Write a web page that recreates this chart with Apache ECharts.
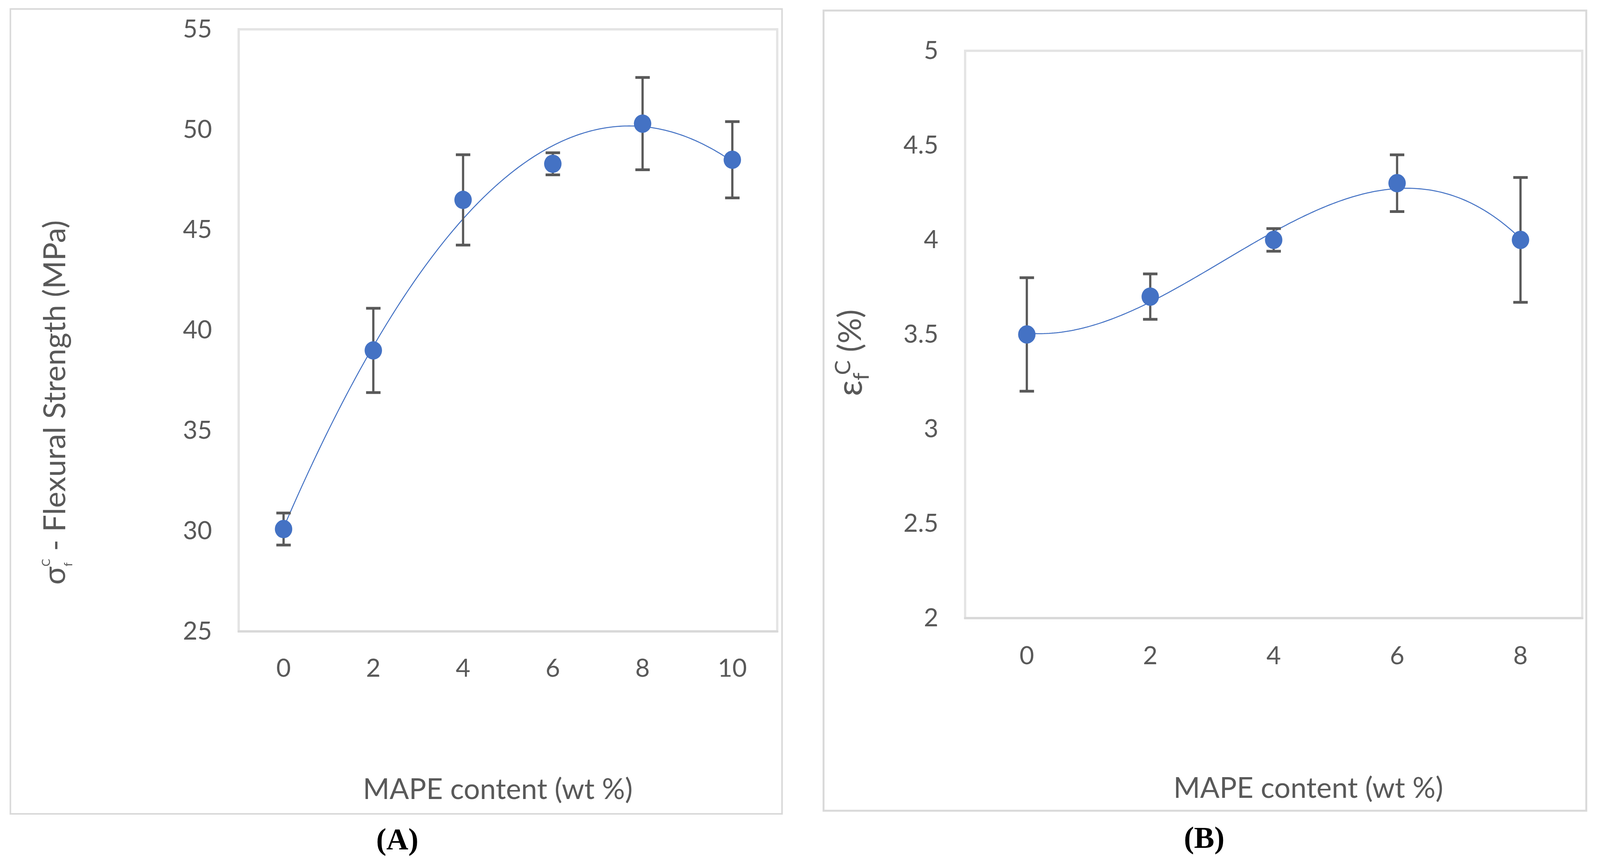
<!DOCTYPE html>
<html><head><meta charset="utf-8">
<script src="https://cdn.jsdelivr.net/npm/echarts@6/dist/echarts.min.js"></script>
<style>html,body{margin:0;padding:0;background:#fff;overflow:hidden}#c{width:100vw;height:100vh}</style>
</head><body><div id="c"></div>
<script>
// ---- data ----
const catA = [0, 2, 4, 6, 8, 10];                 // MAPE content (wt %) – panel A
const valA = [30.1, 39.0, 46.5, 48.3, 50.3, 48.5]; // flexural strength (MPa)
const errA = [0.8, 2.1, 2.25, 0.55, 2.3, 1.9];     // error bar half-length
const catB = [0, 2, 4, 6, 8];                      // MAPE content (wt %) – panel B
const valB = [3.5, 3.7, 4.0, 4.3, 4.0];            // flexural strain (%)
const errB = [0.3, 0.12, 0.06, 0.15, 0.33];
const yTicksA = [25, 30, 35, 40, 45, 50, 55];
const yTicksB = [2, 2.5, 3, 3.5, 4, 4.5, 5];
const trendOrderA = 2;   // polynomial trendline order (as in the reference)
const trendOrderB = 3;

// ---- polynomial least-squares trendline from the data ----
function polyFit(xs, ys, order) {
  const n = order + 1, A = [], b = [];
  for (let i = 0; i < n; i++) {
    A.push([]);
    for (let j = 0; j < n; j++) A[i].push(xs.reduce((s, x) => s + Math.pow(x, i + j), 0));
    b.push(xs.reduce((s, x, k) => s + Math.pow(x, i) * ys[k], 0));
  }
  for (let c = 0; c < n; c++) {
    let p = c; for (let r = c + 1; r < n; r++) if (Math.abs(A[r][c]) > Math.abs(A[p][c])) p = r;
    [A[c], A[p]] = [A[p], A[c]]; [b[c], b[p]] = [b[p], b[c]];
    for (let r = 0; r < n; r++) if (r !== c) {
      const f = A[r][c] / A[c][c];
      for (let k = c; k < n; k++) A[r][k] -= f * A[c][k];
      b[r] -= f * b[c];
    }
  }
  return b.map((v, i) => v / A[i][i]);
}
function trendPoints(xs, ys, order) {
  const co = polyFit(xs, ys, order), out = [];
  const x0 = xs[0], x1 = xs[xs.length - 1], steps = 200;
  for (let i = 0; i <= steps; i++) {
    const x = x0 + (x1 - x0) * i / steps;
    out.push([x, co.reduce((s, c, k) => s + c * Math.pow(x, k), 0)]);
  }
  return out;
}

// layout is designed on a 4317 x 2219 canvas and scaled to the real viewport
const el = document.getElementById('c');
const W = el.clientWidth || window.innerWidth, H = el.clientHeight || window.innerHeight;
const sx = W / 4317, sy = H / 2219, fs = Math.sqrt(sx * sy);
const X = v => v * sx, Y = v => v * sy, F = v => v * fs;

const BLUE = '#4472C4', GREY = '#595959', FONT = 'Lato';

function errRender(params, api) {
  const x = api.value(0), lo = api.value(1), hi = api.value(2);
  const pLo = api.coord([x, lo]), pHi = api.coord([x, hi]);
  const cap = X(19.5);
  return { type: 'group', children: [
    { type: 'line', shape: { x1: pLo[0], y1: pLo[1], x2: pHi[0], y2: pHi[1] }, style: { stroke: GREY, lineWidth: X(6) } },
    { type: 'line', shape: { x1: pHi[0] - cap, y1: pHi[1], x2: pHi[0] + cap, y2: pHi[1] }, style: { stroke: GREY, lineWidth: Y(7) } },
    { type: 'line', shape: { x1: pLo[0] - cap, y1: pLo[1], x2: pLo[0] + cap, y2: pLo[1] }, style: { stroke: GREY, lineWidth: Y(7) } }
  ]};
}

const measureCtx = document.createElement('canvas').getContext('2d');
function tw(t, size) { measureCtx.font = size + 'px ' + FONT; return measureCtx.measureText(t).width; }
// rotated (bottom-to-top) axis title with stacked sub/superscript
function rotTitle(parts, cx, cy) {
  let cur = 0, prevStart = 0;
  const placed = [];
  parts.forEach(p => {
    const size = F(p.size), w = tw(p.t, size);
    let start;
    if (p.stack) { start = prevStart + F(p.shift || 0); cur = Math.max(cur, start + w); }
    else { start = cur; cur += w; }
    placed.push({ p, start, size }); prevStart = start;
  });
  const L = cur;
  return {
    type: 'group', x: X(cx), y: Y(cy), rotation: Math.PI / 2, silent: true,
    children: placed.map(({ p, start, size }) => ({
      type: 'text', x: start - L / 2, y: X(p.dy || 0),
      style: { text: p.t, fontSize: size, fontFamily: FONT, fill: GREY, align: 'left', verticalAlign: 'middle' }
    }))
  };
}

const chart = echarts.init(el, null, { renderer: 'canvas' });

function grid(l, t, w, h) {
  return { left: X(l), top: Y(t), width: X(w), height: Y(h), show: true, borderColor: '#e4e4e4',
    borderWidth: F(6), backgroundColor: '#fff', containLabel: false };
}
function catAxis(gi, cats, margin) {
  return { type: 'category', gridIndex: gi, data: cats.map(String), boundaryGap: true, position: 'bottom',
    axisLine: { show: true, lineStyle: { color: '#d9d9d9', width: F(6) } }, axisTick: { show: false },
    splitLine: { show: false },
    axisLabel: { interval: 0, color: GREY, fontSize: F(66), fontFamily: FONT, margin: Y(margin), verticalAlign: 'middle' } };
}
function valXAxis(gi, cats) {
  const step = cats[1] - cats[0];
  return { type: 'value', gridIndex: gi, show: false, min: cats[0] - step / 2, max: cats[cats.length - 1] + step / 2 };
}
function yAxis(gi, ticks) {
  return { type: 'value', gridIndex: gi, min: ticks[0], max: ticks[ticks.length - 1], interval: ticks[1] - ticks[0],
    axisLine: { show: false }, axisTick: { show: false }, splitLine: { show: false },
    axisLabel: { color: GREY, fontSize: F(66), fontFamily: FONT, margin: X(72) } };
}
function txt(t, x, y, size, extra) {
  return { type: 'text', silent: true, x: X(x), y: Y(y), style: Object.assign({ text: t, fontSize: F(size), fontFamily: FONT,
    fill: GREY, align: 'center', verticalAlign: 'middle' }, extra || {}) };
}

const option = {
  animation: false,
  backgroundColor: '#fff',
  grid: [grid(644, 75, 1453, 1541), grid(2604, 130, 1665, 1452)],
  xAxis: [catAxis(0, catA, 95), valXAxis(0, catA), catAxis(1, catB, 97), valXAxis(1, catB)],
  yAxis: [yAxis(0, yTicksA), yAxis(1, yTicksB)],
  series: [
    { type: 'line', xAxisIndex: 1, yAxisIndex: 0, data: trendPoints(catA, valA, trendOrderA), showSymbol: false,
      lineStyle: { color: BLUE, width: F(2.6) }, z: 2, silent: true },
    { type: 'custom', xAxisIndex: 1, yAxisIndex: 0, renderItem: errRender, encode: { x: 0, y: [1, 2] },
      data: catA.map((x, i) => [x, valA[i] - errA[i], valA[i] + errA[i]]), z: 3, silent: true },
    { type: 'scatter', xAxisIndex: 1, yAxisIndex: 0, data: catA.map((x, i) => [x, valA[i]]), symbolSize: [X(47), Y(47)],
      itemStyle: { color: BLUE, opacity: 1 }, z: 4 },
    { type: 'line', xAxisIndex: 3, yAxisIndex: 1, data: trendPoints(catB, valB, trendOrderB), showSymbol: false,
      lineStyle: { color: BLUE, width: F(2.6) }, z: 2, silent: true },
    { type: 'custom', xAxisIndex: 3, yAxisIndex: 1, renderItem: errRender, encode: { x: 0, y: [1, 2] },
      data: catB.map((x, i) => [x, valB[i] - errB[i], valB[i] + errB[i]]), z: 3, silent: true },
    { type: 'scatter', xAxisIndex: 3, yAxisIndex: 1, data: catB.map((x, i) => [x, valB[i]]), symbolSize: [X(47), Y(47)],
      itemStyle: { color: BLUE, opacity: 1 }, z: 4 }
  ],
  graphic: [
    { type: 'rect', z: -10, silent: true, shape: { x: X(28), y: Y(23), width: X(2082), height: Y(2060) }, style: { fill: 'transparent', stroke: '#d9d9d9', lineWidth: F(4) } },
    { type: 'rect', z: -10, silent: true, shape: { x: X(2222), y: Y(27), width: X(2058), height: Y(2048) }, style: { fill: 'transparent', stroke: '#d9d9d9', lineWidth: F(5) } },
    txt('MAPE content (wt %)', 1343, 2021, 75.5),
    txt('MAPE content (wt %)', 3530, 2018, 75.5),
    txt('(A)', 1072, 2154, 80, { fontWeight: 'bold', fontFamily: 'Liberation Serif', fill: '#000' }),
    txt('(B)', 3249, 2150, 80, { fontWeight: 'bold', fontFamily: 'Liberation Serif', fill: '#000' }),
    rotTitle([
      { t: 'σ', size: 80 },
      { t: 'f', size: 30, dy: 36 },
      { t: 'C', size: 30, dy: -24, stack: true },
      { t: ' - Flexural Strength (MPa)', size: 80 }
    ], 149, 1030),
    rotTitle([
      { t: 'ε', size: 92 },
      { t: 'f', size: 58, dy: 30 },
      { t: 'C', size: 58, dy: -20, stack: true, shift: 14 },
      { t: ' (%)', size: 84 }
    ], 2295, 903)
  ]
};
chart.setOption(option);
</script>
</body></html>
